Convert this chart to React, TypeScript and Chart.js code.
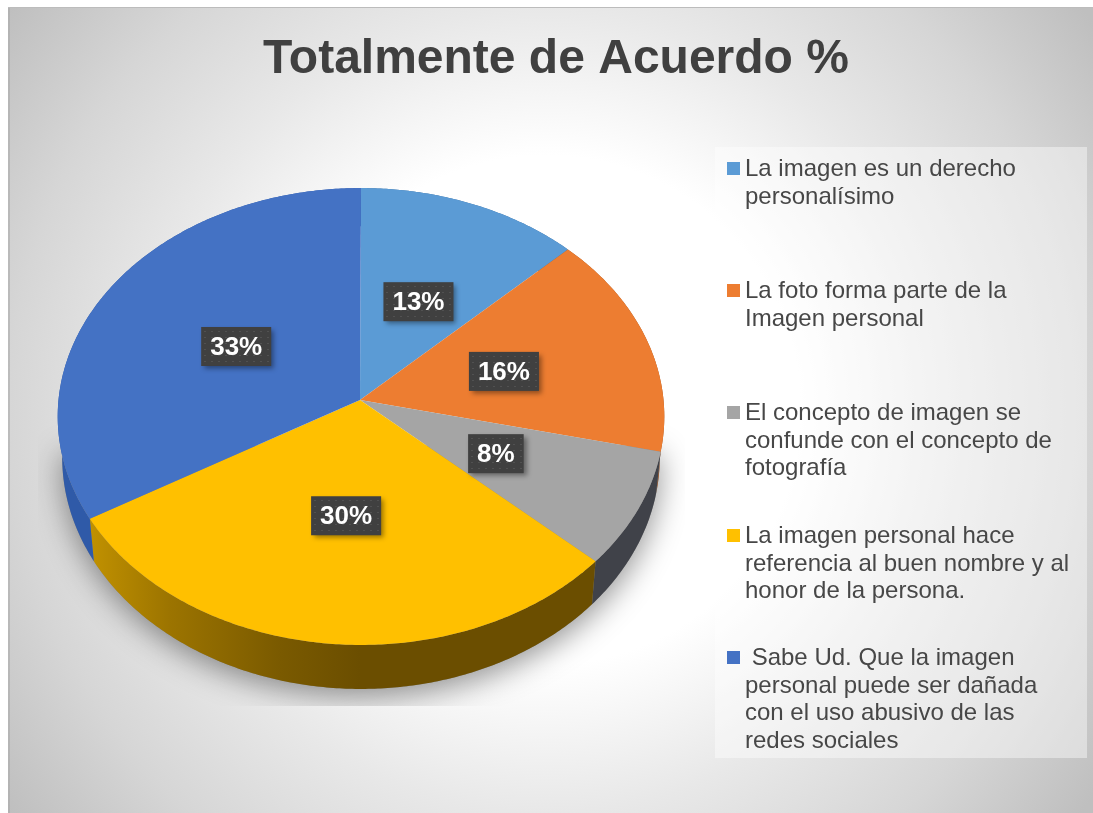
import React, { useEffect, useRef } from "react";
import { Chart, registerables } from "chart.js";

Chart.register(...registerables);

const TITLE = "Totalmente de Acuerdo %";
const categories = [
  ["La imagen es un derecho", "personalísimo"],
  ["La foto forma parte de la", "Imagen personal"],
  ["El concepto de imagen se", "confunde con el concepto de", "fotografía"],
  ["La imagen personal hace", "referencia al buen nombre y al", "honor de la persona."],
  [" Sabe Ud. Que la imagen", "personal puede ser dañada", "con el uso abusivo de las", "redes sociales"],
];
// Slice shares estimated from the drawn angles; labels show them rounded.
const values = [12.75, 15.85, 8.2, 29.8, 33.4];
const colors = ["#5b9bd5", "#ed7d31", "#a5a5a5", "#ffc000", "#4472c4"];
const wallColors = ["#3a6d9e", "#9d5320", "#404249", null, "#2f5aa8"];
const legendBaselines = [176, 298, 420, 543, 665];

const K = 0.0722; // perspective strength
const RY = 0.75; // vertical squash
const DEPTH = 44;
const FONT = '"Liberation Sans", Arial, sans-serif';

function project(el: any, angle: number, r = 1): [number, number, number] {
  const u = Math.cos(angle);
  const v = Math.sin(angle);
  const f = 1 / (1 - K * v * r);
  return [el.x + r + (el.outerRadius - 0.5) * u * r * f, el.y + el.outerRadius * RY * v * r * f, f];
}
function lower(el: any, angle: number): [number, number] {
  const [x, y, f] = project(el, angle);
  return [el.x + (x - el.x) * 0.985, y + (DEPTH * f) / (1 / (1 - K))];
}
function angles(a0: number, a1: number): number[] {
  const n = Math.max(2, Math.ceil((a1 - a0) / 0.01));
  const out: number[] = [];
  for (let i = 0; i <= n; i++) out.push(a0 + ((a1 - a0) * i) / n);
  return out;
}

const pie3d = {
  id: "pie3d",
  afterLayout(chart: any) {
    chart.titleBlock.left += 196;
    chart.titleBlock.right += 196;
  },
  beforeDraw(chart: any) {
    const { ctx, width, height } = chart;
    ctx.save();
    ctx.fillStyle = "#ffffff";
    ctx.fillRect(0, 0, width, height);
    const g = ctx.createRadialGradient(546, 410, 0, 546, 410, 670);
    g.addColorStop(0, "#ffffff");
    g.addColorStop(0.38, "#ffffff");
    g.addColorStop(0.6, "#e8e8e8");
    g.addColorStop(0.8, "#d6d6d6");
    g.addColorStop(1, "#bfbfbf");
    ctx.fillStyle = g;
    ctx.fillRect(8, 8, 1085, 805);
    ctx.fillStyle = "#bcbcbc";
    ctx.fillRect(8, 7, 1085, 1);
    ctx.fillStyle = "rgba(170,170,170,0.6)";
    ctx.fillRect(8, 8, 2, 805);
    ctx.fillStyle = "rgba(255,255,255,0.42)";
    ctx.fillRect(715, 147, 372, 611);
    ctx.restore();
  },
  beforeDatasetDraw(chart: any) {
    const { ctx } = chart;
    const arcs = chart.getDatasetMeta(0).data;
    const first = arcs[0];
    ctx.save();
    // soft cast shadow, only from the front half of the disc
    ctx.save();
    ctx.beginPath();
    ctx.rect(38, 300, 647, 406);
    ctx.clip();
    ctx.shadowColor = "rgba(0,0,0,0.42)";
    ctx.shadowBlur = 30;
    ctx.shadowOffsetY = 8;
    ctx.fillStyle = "#888";
    ctx.beginPath();
    angles(0.02, Math.PI - 0.02).forEach((a, i) => {
      const [x, y] = lower(first, a);
      if (i) ctx.lineTo(x, y);
      else ctx.moveTo(x, y);
    });
    ctx.closePath();
    ctx.fill();
    ctx.restore();
    // walls
    arcs.forEach((el: any, i: number) => {
      const list = angles(el.startAngle, el.endAngle);
      ctx.beginPath();
      list.forEach((a, j) => {
        const [x, y] = project(el, a);
        if (j) ctx.lineTo(x, y);
        else ctx.moveTo(x, y);
      });
      [...list].reverse().forEach((a) => {
        const [x, y] = lower(el, a);
        ctx.lineTo(x, y);
      });
      ctx.closePath();
      let fill: any = wallColors[i];
      if (!fill) {
        fill = ctx.createLinearGradient(57, 0, 663, 0);
        fill.addColorStop(0.05, "#c29200");
        fill.addColorStop(0.186, "#9c7400");
        fill.addColorStop(0.368, "#7a5a00");
        fill.addColorStop(0.5, "#6b4e00");
        fill.addColorStop(1, "#6b4e00");
      }
      ctx.fillStyle = fill;
      ctx.fill();
    });
    // top faces
    arcs.forEach((el: any, i: number) => {
      ctx.beginPath();
      ctx.moveTo(el.x, el.y);
      angles(el.startAngle, el.endAngle).forEach((a) => {
        const [x, y] = project(el, a);
        ctx.lineTo(x, y);
      });
      ctx.closePath();
      ctx.fillStyle = colors[i];
      ctx.fill();
    });
    ctx.restore();
    return false;
  },
  afterDatasetsDraw(chart: any) {
    const { ctx } = chart;
    const arcs = chart.getDatasetMeta(0).data;
    ctx.save();
    // data labels
    ctx.font = `bold 26px ${FONT}`;
    ctx.textBaseline = "middle";
    ctx.textAlign = "center";
    arcs.forEach((el: any, i: number) => {
      const mid = (el.startAngle + el.endAngle) / 2;
      const [px0, py0] = project(el, mid, 0.49);
      const x = px0 + 2;
      const y = py0 + 1;
      const text = `${Math.round(values[i])}%`;
      const w = ctx.measureText(text).width + 18;
      const h = 39;
      ctx.save();
      ctx.shadowColor = "rgba(0,0,0,0.4)";
      ctx.shadowBlur = 5;
      ctx.shadowOffsetX = 3;
      ctx.shadowOffsetY = 3;
      ctx.fillStyle = "#404040";
      ctx.fillRect(x - w / 2, y - h / 2, w, h);
      ctx.restore();
      ctx.fillStyle = "rgba(255,255,255,0.09)";
      for (let py = y - h / 2 + 4; py < y + h / 2 - 1; py += 6) {
        for (let px = x - w / 2 + 3; px < x + w / 2 - 1; px += 7) {
          ctx.fillRect(Math.round(px), Math.round(py), 2, 1);
        }
      }
      ctx.fillStyle = "#ffffff";
      ctx.fillText(text, x, y + 1);
    });
    // legend
    ctx.textAlign = "left";
    ctx.textBaseline = "alphabetic";
    ctx.font = `24px ${FONT}`;
    categories.forEach((lines, i) => {
      ctx.fillStyle = colors[i];
      ctx.fillRect(727, legendBaselines[i] - 14, 13, 13);
      ctx.fillStyle = "#474747";
      lines.forEach((line, j) => {
        ctx.fillText(line, 745, legendBaselines[i] + j * 27.6);
      });
    });
    ctx.restore();
  },
};

export default function App() {
  const ref = useRef<HTMLCanvasElement>(null);
  useEffect(() => {
    if (!ref.current) return;
    const chart = new Chart(ref.current, {
      type: "pie",
      data: {
        labels: categories.map((c) => c.join(" ").trim()),
        datasets: [{ data: values, backgroundColor: colors, borderWidth: 0 }],
      },
      options: {
        responsive: false,
        animation: false,
        layout: { padding: { left: 57, right: 430, top: 0, bottom: 110 } },
        plugins: {
          legend: { display: false },
          tooltip: { enabled: false },
          title: {
            display: true,
            text: TITLE,
            color: "#404040",
            font: { family: FONT, size: 48, weight: "bold", lineHeight: 1.2 },
            padding: { top: 31, bottom: 8.4 },
          },
        },
      },
      plugins: [pie3d],
    } as any);
    return () => chart.destroy();
  }, []);
  return (
    <div style={{ position: "absolute", left: 0, top: 0, width: 1093, height: 813, overflow: "hidden" }}>
      <canvas ref={ref} width={1093} height={813} style={{ display: "block" }} />
    </div>
  );
}
